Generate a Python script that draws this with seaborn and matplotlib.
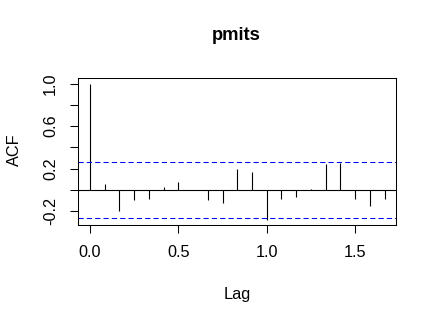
import numpy as np
import matplotlib
matplotlib.use("Agg")
import matplotlib.pyplot as plt
import seaborn as sns

lags = np.arange(21) / 12
acf = [1.0, 0.057, -0.195, -0.10, -0.082, 0.028, 0.076, 0.003, -0.10, -0.12,
       0.192, 0.170, -0.283, -0.091, -0.063, 0.010, 0.246, 0.255, -0.091, -0.157, -0.091]
ci = 0.263
title = "pmits"
xlabel = "Lag"
ylabel = "ACF"
xticks = [0.0, 0.5, 1.0, 1.5]
xticklabels = ["0.0", "0.5", "1.0", "1.5"]
yticks = [-0.2, 0.0, 0.2, 0.4, 0.6, 0.8, 1.0]
yticklabels = ["-0.2", "", "0.2", "", "0.6", "", "1.0"]

sns.set_style("white")
plt.rcParams["font.family"] = ["Liberation Sans", "DejaVu Sans"]
plt.rcParams["text.color"] = "black"
plt.rcParams["xtick.color"] = "black"
plt.rcParams["ytick.color"] = "black"

W, H = 437, 323
fig = plt.figure(figsize=(W / 100, H / 100), dpi=100)
ax = fig.add_axes([0.179, 0.3025, 0.907 - 0.179, 0.7585 - 0.3025])

ax.vlines(lags, 0, acf, color="black", linewidth=0.8)
ax.axhline(0, color="black", linewidth=0.8)
for c in (ci, -ci):
    ax.axhline(c, color="blue", linewidth=0.75, linestyle=(0, (5, 3)))

fs = 11.7
ax.set_xlim(-0.0667, 1.7333)
ax.set_ylim(-0.334, 1.053)
ax.set_xticks(xticks)
ax.set_xticklabels(xticklabels, fontsize=fs, color="black")
ax.set_yticks(yticks)
ax.set_yticklabels(yticklabels, fontsize=fs, rotation=90, va="center", color="black")
ax.tick_params(axis="both", direction="out", length=5.5, width=0.75, color="black",
               labelcolor="black", left=True, bottom=True, pad=9)
for s in ax.spines.values():
    s.set_visible(True)
    s.set_color("black")
    s.set_linewidth(0.75)

fig.text(237 / W, 1 - 294 / H, xlabel, fontsize=fs, ha="center", va="center", color="black")
fig.text(14 / W, 1 - 150 / H, ylabel, fontsize=fs, ha="center", va="center", rotation=90,
         color="black")
fig.text(236 / W, 1 - 36 / H, title, fontsize=13.2, fontweight="bold",
         ha="center", va="center", color="black")

fig.savefig("out.png", dpi=100)
